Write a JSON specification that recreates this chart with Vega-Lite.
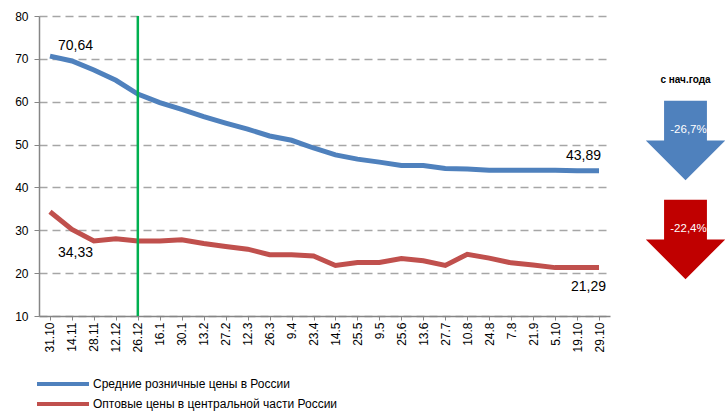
{
  "$schema": "https://vega.github.io/schema/vega-lite/v6.json",
  "padding": {"left": 14, "top": 10, "right": 0, "bottom": 0},
  "background": "white",
  "config": {"font": "Liberation Sans", "view": {"stroke": null}},
  "datasets": {
    "prices": [
      {"date": "31.10", "series": "Средние розничные цены в России", "value": 70.64},
      {"date": "14.11", "series": "Средние розничные цены в России", "value": 69.5},
      {"date": "28.11", "series": "Средние розничные цены в России", "value": 67.4},
      {"date": "12.12", "series": "Средние розничные цены в России", "value": 65.0},
      {"date": "26.12", "series": "Средние розничные цены в России", "value": 61.8},
      {"date": "16.1", "series": "Средние розничные цены в России", "value": 59.8},
      {"date": "30.1", "series": "Средние розничные цены в России", "value": 58.2},
      {"date": "13.2", "series": "Средние розничные цены в России", "value": 56.5},
      {"date": "27.2", "series": "Средние розничные цены в России", "value": 55.0},
      {"date": "12.3", "series": "Средние розничные цены в России", "value": 53.6},
      {"date": "26.3", "series": "Средние розничные цены в России", "value": 52.0},
      {"date": "9.4", "series": "Средние розничные цены в России", "value": 51.0},
      {"date": "23.4", "series": "Средние розничные цены в России", "value": 49.2},
      {"date": "14.5", "series": "Средние розничные цены в России", "value": 47.6},
      {"date": "25.5", "series": "Средние розничные цены в России", "value": 46.6},
      {"date": "9.5", "series": "Средние розничные цены в России", "value": 45.9},
      {"date": "25.6", "series": "Средние розничные цены в России", "value": 45.1},
      {"date": "13.6", "series": "Средние розничные цены в России", "value": 45.1},
      {"date": "27.7", "series": "Средние розничные цены в России", "value": 44.4},
      {"date": "10.8", "series": "Средние розничные цены в России", "value": 44.3},
      {"date": "24.8", "series": "Средние розничные цены в России", "value": 44.0},
      {"date": "7.8", "series": "Средние розничные цены в России", "value": 44.0},
      {"date": "21.9", "series": "Средние розничные цены в России", "value": 44.0},
      {"date": "5.10", "series": "Средние розничные цены в России", "value": 44.0},
      {"date": "19.10", "series": "Средние розничные цены в России", "value": 43.89},
      {"date": "29.10", "series": "Средние розничные цены в России", "value": 43.89},
      {"date": "31.10", "series": "Оптовые цены в центральной части России", "value": 34.33},
      {"date": "14.11", "series": "Оптовые цены в центральной части России", "value": 30.2},
      {"date": "28.11", "series": "Оптовые цены в центральной части России", "value": 27.5},
      {"date": "12.12", "series": "Оптовые цены в центральной части России", "value": 28.0},
      {"date": "26.12", "series": "Оптовые цены в центральной части России", "value": 27.5},
      {"date": "16.1", "series": "Оптовые цены в центральной части России", "value": 27.5},
      {"date": "30.1", "series": "Оптовые цены в центральной части России", "value": 27.8},
      {"date": "13.2", "series": "Оптовые цены в центральной части России", "value": 26.9},
      {"date": "27.2", "series": "Оптовые цены в центральной части России", "value": 26.2},
      {"date": "12.3", "series": "Оптовые цены в центральной части России", "value": 25.6},
      {"date": "26.3", "series": "Оптовые цены в центральной части России", "value": 24.3},
      {"date": "9.4", "series": "Оптовые цены в центральной части России", "value": 24.3},
      {"date": "23.4", "series": "Оптовые цены в центральной части России", "value": 24.0},
      {"date": "14.5", "series": "Оптовые цены в центральной части России", "value": 21.8},
      {"date": "25.5", "series": "Оптовые цены в центральной части России", "value": 22.5},
      {"date": "9.5", "series": "Оптовые цены в центральной части России", "value": 22.5},
      {"date": "25.6", "series": "Оптовые цены в центральной части России", "value": 23.4},
      {"date": "13.6", "series": "Оптовые цены в центральной части России", "value": 22.9},
      {"date": "27.7", "series": "Оптовые цены в центральной части России", "value": 21.8},
      {"date": "10.8", "series": "Оптовые цены в центральной части России", "value": 24.4},
      {"date": "24.8", "series": "Оптовые цены в центральной части России", "value": 23.5},
      {"date": "7.8", "series": "Оптовые цены в центральной части России", "value": 22.4},
      {"date": "21.9", "series": "Оптовые цены в центральной части России", "value": 21.9},
      {"date": "5.10", "series": "Оптовые цены в центральной части России", "value": 21.29},
      {"date": "19.10", "series": "Оптовые цены в центральной части России", "value": 21.29},
      {"date": "29.10", "series": "Оптовые цены в центральной части России", "value": 21.29}
    ],
    "labels": [
      {"date": "31.10", "value": 70.64, "label": "70,64"},
      {"date": "31.10", "value": 34.33, "label": "34,33"},
      {"date": "29.10", "value": 43.89, "label": "43,89"},
      {"date": "29.10", "value": 21.29, "label": "21,29"}
    ],
    "arrows": [
      {"series": "retail", "change": "-26,7%", "level": 50.95},
      {"series": "wholesale", "change": "-22,4%", "level": 27.85}
    ]
  },
  "bounds": "flush",
  "spacing": 34,
  "resolve": {"scale": {"color": "independent"}, "legend": {"color": "independent"}},
  "hconcat": [
    {
      "width": 573,
      "height": 300,
      "layer": [
        {
          "data": {"name": "prices"},
          "mark": {"type": "line", "strokeWidth": 5},
          "encoding": {
            "x": {
              "field": "date", "type": "ordinal",
              "scale": {
                "type": "point", "range": [0, 571],
                "domain": ["31.10","14.11","28.11","12.12","26.12","16.1","30.1","13.2","27.2","12.3","26.3","9.4","23.4","14.5","25.5","9.5","25.6","13.6","27.7","10.8","24.8","7.8","21.9","5.10","19.10","29.10"]
              },
              "axis": {
                "title": null, "labelAngle": -90, "labelFontSize": 12, "labelColor": "#000000",
                "domainColor": "#868686", "domainWidth": 1.5, "tickColor": "#868686", "tickSize": 4,
                "labelPadding": 2, "grid": false
              }
            },
            "y": {
              "field": "value", "type": "quantitative",
              "scale": {"domain": [10, 80], "nice": false, "zero": false},
              "axis": {
                "title": null, "values": [10, 20, 30, 40, 50, 60, 70, 80],
                "grid": true, "gridDash": [8, 5], "gridColor": "#A6A6A6", "gridWidth": 1.6,
                "domainColor": "#868686", "domainWidth": 1.5, "tickColor": "#868686", "tickSize": 5,
                "labelPadding": 6, "labelFontSize": 12, "labelColor": "#000000"
              }
            },
            "color": {
              "field": "series", "type": "nominal",
              "scale": {
                "domain": ["Средние розничные цены в России", "Оптовые цены в центральной части России"],
                "range": ["#4F81BD", "#C0504D"]
              },
              "legend": {
                "title": null, "orient": "none", "legendX": -4, "legendY": 358, "direction": "vertical",
                "symbolType": "stroke", "symbolSize": 2704, "symbolStrokeWidth": 4,
                "labelFontSize": 12, "labelColor": "#000000", "labelLimit": 0, "clipHeight": 20, "rowPadding": 0,
                "padding": 0, "labelOffset": 2
              }
            }
          }
        },
        {
          "data": {"values": [{"date": "26.12"}]},
          "mark": {"type": "rule", "color": "#00B050", "strokeWidth": 2.5},
          "encoding": {"x": {"field": "date", "type": "ordinal"}}
        },
        {
          "data": {"name": "labels"},
          "transform": [{"filter": "datum.label === '70,64'"}],
          "mark": {"type": "text", "align": "left", "baseline": "middle", "dx": 8, "dy": -10, "fontSize": 14, "color": "#000000"},
          "encoding": {
            "x": {"field": "date", "type": "ordinal"},
            "y": {"field": "value", "type": "quantitative"},
            "text": {"field": "label"}
          }
        },
        {
          "data": {"name": "labels"},
          "transform": [{"filter": "datum.label === '34,33'"}],
          "mark": {"type": "text", "align": "left", "baseline": "middle", "dx": 8, "dy": 41, "fontSize": 14, "color": "#000000"},
          "encoding": {
            "x": {"field": "date", "type": "ordinal"},
            "y": {"field": "value", "type": "quantitative"},
            "text": {"field": "label"}
          }
        },
        {
          "data": {"name": "labels"},
          "transform": [{"filter": "datum.label === '43,89'"}],
          "mark": {"type": "text", "align": "right", "baseline": "middle", "dx": 2, "dy": -15, "fontSize": 14, "color": "#000000"},
          "encoding": {
            "x": {"field": "date", "type": "ordinal"},
            "y": {"field": "value", "type": "quantitative"},
            "text": {"field": "label"}
          }
        },
        {
          "data": {"name": "labels"},
          "transform": [{"filter": "datum.label === '21,29'"}],
          "mark": {"type": "text", "align": "right", "baseline": "middle", "dx": 7, "dy": 19, "fontSize": 14, "color": "#000000"},
          "encoding": {
            "x": {"field": "date", "type": "ordinal"},
            "y": {"field": "value", "type": "quantitative"},
            "text": {"field": "label"}
          }
        }
      ]
    },
    {
      "width": 79,
      "height": 300,
      "layer": [
        {
          "data": {"values": [{"text": "с нач.года", "level": 65.1}]},
          "mark": {"type": "text", "fontSize": 10, "fontWeight": "bold", "color": "#000000", "baseline": "middle"},
          "encoding": {
            "y": {"field": "level", "type": "quantitative", "scale": {"domain": [10, 80], "nice": false, "zero": false}, "axis": null},
            "text": {"field": "text"}
          }
        },
        {
          "data": {"name": "arrows"},
          "transform": [{"filter": "datum.series === 'retail'"}],
          "mark": {"type": "point", "shape": "M-0.54,-1L0.54,-1L0.54,0L1,0L0,1L-1,0L-0.54,0Z", "filled": true, "color": "#4F81BD", "opacity": 1, "size": 6300},
          "encoding": {
            "y": {"field": "level", "type": "quantitative"}
          }
        },
        {
          "data": {"name": "arrows"},
          "transform": [{"filter": "datum.series === 'wholesale'"}],
          "mark": {"type": "point", "shape": "M-0.54,-1L0.54,-1L0.54,0L1,0L0,1L-1,0L-0.54,0Z", "filled": true, "color": "#C00000", "opacity": 1, "size": 6300},
          "encoding": {
            "y": {"field": "level", "type": "quantitative"}
          }
        },
        {
          "data": {"name": "arrows"},
          "mark": {"type": "text", "fontSize": 11.5, "color": "#FFFFFF", "baseline": "middle", "dx": 3, "dy": -11},
          "encoding": {
            "y": {"field": "level", "type": "quantitative"},
            "text": {"field": "change"}
          }
        }
      ]
    }
  ]
}
